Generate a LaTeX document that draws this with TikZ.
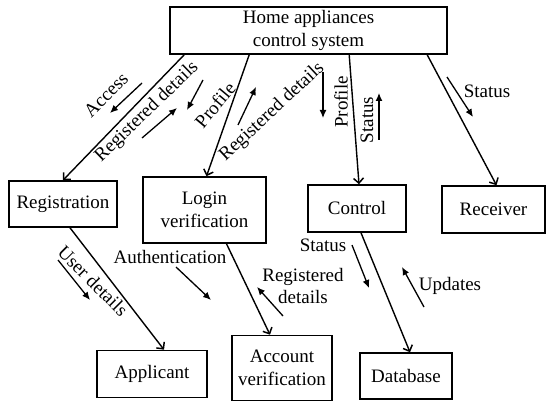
\documentclass[tikz,border=0pt]{standalone}
\usepackage{fontspec}
\setmainfont{Liberation Serif}
\usepackage{tikz}
\usetikzlibrary{positioning,arrows.meta}

\begin{document}
\begin{tikzpicture}[%
    x=1pt, y=-1pt,
    font=\fontsize{19}{22.5}\selectfont,
    align=center,
    box/.style={draw, line width=1.6pt, inner sep=0pt},
    conn/.style={-{Straight Barb[length=5pt,width=10pt,line width=1.5pt]}, line width=1.4pt},
    flow/.style={-{Latex[length=8pt,width=7pt]}, line width=1.3pt},
    lbl/.style={inner sep=1pt}
  ]
    \useasboundingbox (0,0) rectangle (547,404);

    % blocks
    \node[box, minimum width=277pt, minimum height=47pt] (home) at (308.5,30.5) {Home appliances\\control system};
    \node[box, minimum width=108pt, minimum height=46pt] (reg) at (63,204) {Registration};
    \node[box, minimum width=123pt, minimum height=66pt] (login) at (204.5,210) {Login\\verification};
    \node[box, minimum width=98pt, minimum height=47pt] (ctrl) at (357,208.5) {Control};
    \node[box, minimum width=103pt, minimum height=47pt] (recv) at (493.5,209.5) {Receiver};
    \node[box, minimum width=110pt, minimum height=47pt] (appl) at (152,374) {Applicant};
    \node[box, minimum width=100pt, minimum height=65pt] (acc) at (282,368) {Account\\verification};
    \node[box, minimum width=92pt, minimum height=46pt] (db) at (406,376) {Database};

    % connectors
    \draw[conn] ([xshift=15pt]home.south west) -- (reg.north);
    \draw[conn] ([xshift=80pt]home.south west) -- ([xshift=2pt]login.north);
    \draw[conn] ([xshift=180pt]home.south west) -- ([xshift=2pt]ctrl.north);
    \draw[conn] ([xshift=258pt]home.south west) -- ([xshift=3pt]recv.north);
    \draw[conn] ([xshift=7pt]reg.south) -- ([xshift=12pt]appl.north);
    \draw[conn] ([xshift=22pt]login.south) -- ([xshift=-12pt]acc.north);
    \draw[conn] ([xshift=4pt]ctrl.south) -- ([xshift=4pt]db.north);

    % labels
    \node[lbl, rotate=45] (access) at (106,95) {Access};
    \node[lbl, rotate=44] (regdet1) at (147,112) {Registered details};
    \node[lbl, rotate=50] (prof1) at (215,105) {Profile};
    \node[lbl, rotate=43] (regdet2) at (272,112) {Registered details};
    \node[lbl, rotate=90] (prof2) at (341,102) {Profile};
    \node[lbl, rotate=90] (stat1) at (367,120) {Status};
    \node[lbl] (stat2) at (487,91) {Status};
    \node[lbl, rotate=-45] (userdet) at (93,281) {User details};
    \node[lbl] (auth) at (170,257) {Authentication};
    \node[lbl] (regdet3) at (303,286) {Registered\\details};
    \node[lbl] (stat3) at (323,245) {Status};
    \node[lbl] (upd) at (450,286) {Updates};

    % label arrows
    \coordinate (a1) at (142,83);   \coordinate (a2) at (110,113);
    \coordinate (b1) at (142,138);  \coordinate (b2) at (177,108);
    \coordinate (c1) at (203,80);   \coordinate (c2) at (187,110);
    \coordinate (d1) at (238,125);  \coordinate (d2) at (256,87);
    \coordinate (e1) at (323,72);   \coordinate (e2) at (323,118);
    \coordinate (f1) at (379,140);  \coordinate (f2) at (379,93);
    \coordinate (g1) at (447,77);   \coordinate (g2) at (473,117);
    \coordinate (h1) at (58,260);   \coordinate (h2) at (90,300);
    \coordinate (i1) at (176,267);  \coordinate (i2) at (211,300);
    \coordinate (j1) at (283,316);  \coordinate (j2) at (257,287);
    \coordinate (k1) at (352,245);  \coordinate (k2) at (369,288);
    \coordinate (l1) at (424,307);  \coordinate (l2) at (402,267);
    \foreach \s/\t in {a1/a2,b1/b2,c1/c2,d1/d2,e1/e2,f1/f2,g1/g2,h1/h2,i1/i2,j1/j2,k1/k2,l1/l2}
      \draw[flow] (\s) -- (\t);
\end{tikzpicture}
\end{document}
